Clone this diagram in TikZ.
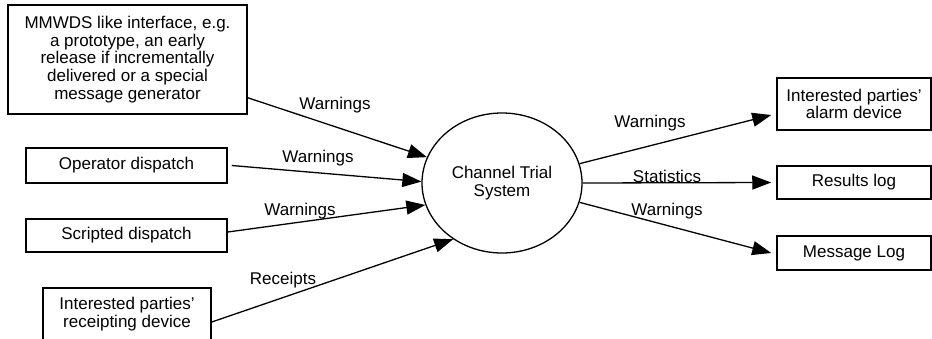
\documentclass[tikz,border=0pt]{standalone}
\usepackage{fontspec}
\setmainfont{Liberation Sans}
\usetikzlibrary{shapes.geometric,arrows.meta}
\begin{document}
\begin{tikzpicture}[x=1pt,y=-1pt,
  every node/.style={font=\fontsize{17}{17.7}\selectfont},
  ent/.style={draw,line width=1.5pt,rectangle,inner sep=0pt,align=center},
  proc/.style={draw,line width=1.3pt,ellipse,minimum width=160pt,minimum height=140pt,inner sep=0pt,align=center},
  flow/.style={line width=1.3pt,-{Triangle[length=19pt,width=14pt]}},
  lbl/.style={inner sep=0pt}]
\useasboundingbox (0,0) rectangle (932,338);
% entities
\node[ent,minimum width=239pt,minimum height=109pt] (mm) at (127.5,59.5)
  {MMWDS like interface, e.g.\\a prototype, an early\\release if incrementally\\delivered or a special\\message generator};
\node[ent,minimum width=201pt,minimum height=35pt] (op) at (126.5,165.5) {Operator dispatch};
\node[ent,minimum width=201pt,minimum height=33pt] (sd) at (126.5,235.5) {Scripted dispatch};
\node[ent,minimum width=168pt,minimum height=52pt] (rc) at (127,314) {Interested parties’\\receipting device};
\node[ent,minimum width=154pt,minimum height=52pt] (al) at (854,104) {Interested parties’\\alarm device};
\node[ent,minimum width=154pt,minimum height=33pt] (rl) at (854,182.5) {Results log};
\node[ent,minimum width=154pt,minimum height=34pt] (ml) at (854,253) {Message Log};
% process
\node[proc] (ch) at (502,183) {Channel Trial\\System};
% flows
\draw[flow] ([yshift=17pt]mm.south east) -- (ch.161);
\draw[flow] ([xshift=4pt]op.east) -- (ch.179);
\draw[flow] ([yshift=3.5pt]sd.east) -- (ch.196.6);
\draw[flow] ([yshift=-8pt]rc.east) -- (ch.229.7);
\draw[flow] (ch.14.4) -- ([xshift=-5pt,yshift=-11pt]al.west);
\draw[flow] (ch.0) -- ([xshift=-5pt]rl.west);
\draw[flow] (ch.346) -- ([xshift=-5pt]ml.west);
% labels
\node[lbl] (l1) at (335,105) {Warnings};
\node[lbl] (l2) at (318,158) {Warnings};
\node[lbl] (l3) at (300,211) {Warnings};
\node[lbl] (l4) at (283,280) {Receipts};
\node[lbl] (l5) at (650,123) {Warnings};
\node[lbl] (l6) at (667,176) {Statistics};
\node[lbl] (l7) at (667,211) {Warnings};
\end{tikzpicture}
\end{document}
